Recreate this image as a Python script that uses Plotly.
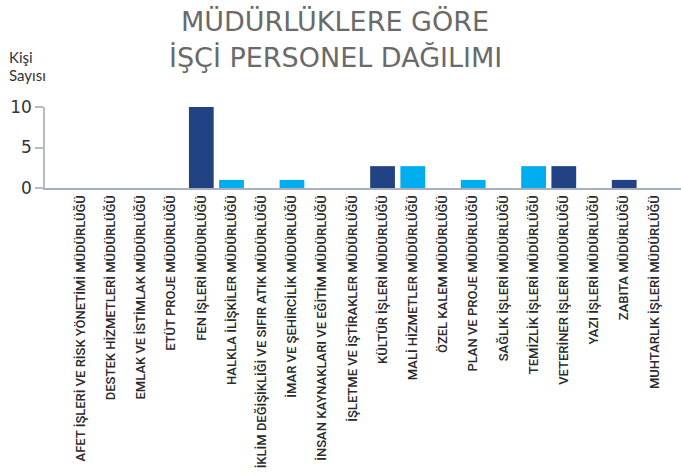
import plotly.graph_objects as go

categories = [
    "AFET İŞLERİ VE RİSK YÖNETİMİ MÜDÜRLÜĞÜ",
    "DESTEK HİZMETLERİ MÜDÜRLÜĞÜ",
    "EMLAK VE İSTİMLAK MÜDÜRLÜĞÜ",
    "ETÜT PROJE MÜDÜRLÜĞÜ",
    "FEN İŞLERİ MÜDÜRLÜĞÜ",
    "HALKLA İLİŞKİLER MÜDÜRLÜĞÜ",
    "İKLİM DEĞİŞİKLİĞİ VE SIFIR ATIK MÜDÜRLÜĞÜ",
    "İMAR VE ŞEHİRCİLİK MÜDÜRLÜĞÜ",
    "İNSAN KAYNAKLARI VE EĞİTİM MÜDÜRLÜĞÜ",
    "İŞLETME VE İŞTİRAKLER MÜDÜRLÜĞÜ",
    "KÜLTÜR İŞLERİ MÜDÜRLÜĞÜ",
    "MALİ HİZMETLER MÜDÜRLÜĞÜ",
    "ÖZEL KALEM MÜDÜRLÜĞÜ",
    "PLAN VE PROJE MÜDÜRLÜĞÜ",
    "SAĞLIK İŞLERİ MÜDÜRLÜĞÜ",
    "TEMİZLİK İŞLERİ MÜDÜRLÜĞÜ",
    "VETERİNER İŞLERİ MÜDÜRLÜĞÜ",
    "YAZI İŞLERİ MÜDÜRLÜĞÜ",
    "ZABITA MÜDÜRLÜĞÜ",
    "MUHTARLIK İŞLERİ MÜDÜRLÜĞÜ",
]
values = [0, 0, 0, 0, 10, 1, 0, 1, 0, 0, 2.7, 2.7, 0, 1, 0, 2.7, 2.7, 0, 1, 0]
y_ticks = [0, 5, 10]
title_lines = ["MÜDÜRLÜKLERE GÖRE", "İŞÇİ PERSONEL DAĞILIMI"]
y_title_lines = ["Kişi", "Sayısı"]

DARK = "#224383"
LIGHT = "#00AEEF"
colors = [DARK if i % 2 == 0 else LIGHT for i in range(len(categories))]

fig = go.Figure(
    go.Bar(
        x=categories,
        y=values,
        marker=dict(color=colors, line=dict(width=0)),
        hoverinfo="x+y",
    )
)

W, H = 681, 476
ml, mr, mt, mb = 45, 0, 107, 288
PW = W - ml - mr
PH = H - mt - mb


def px_x(px):
    return (px - ml) / PW


def px_y(py):
    return (H - mb - py) / PH


fig.update_layout(
    width=W,
    height=H,
    margin=dict(l=ml, r=mr, t=mt, b=mb, autoexpand=False),
    paper_bgcolor="white",
    plot_bgcolor="white",
    bargap=0.18,
    showlegend=False,
    font=dict(family="DejaVu Sans, sans-serif", color="#333333"),
)

fig.update_xaxes(
    type="category",
    range=[-1.175, 19.88],
    showline=True,
    linecolor="#A9AFBB",
    linewidth=2,
    showgrid=False,
    ticks="",
    tickangle=-90,
    tickfont=dict(family="Roboto, sans-serif", size=13, weight=500, color="#2a2a2a"),
    automargin=False,
    fixedrange=True,
)
fig.update_yaxes(
    range=[0, 10],
    tickvals=y_ticks,
    showline=True,
    linecolor="#B5BBC6",
    linewidth=1.5,
    showgrid=False,
    zeroline=False,
    ticks="outside",
    ticklen=8,
    tickwidth=1.5,
    tickcolor="#B5BBC6",
    tickfont=dict(family="DejaVu Sans, sans-serif", size=17, color="#333333"),
    automargin=False,
    fixedrange=True,
)

# title (two lines)
for line, py in zip(title_lines, [21.5, 57.5]):
    fig.add_annotation(
        text=line,
        xref="paper", yref="paper",
        x=px_x(335), xanchor="center",
        y=px_y(py), yanchor="middle",
        showarrow=False,
        font=dict(family="DejaVu Sans, sans-serif", size=27, color="#6a6a6a"),
    )

# y-axis title (two lines)
for line, py in zip(y_title_lines, [57, 75]):
    fig.add_annotation(
        text=line,
        xref="paper", yref="paper",
        x=px_x(7), xanchor="left",
        y=px_y(py), yanchor="middle",
        showarrow=False,
        font=dict(family="Lato, sans-serif", size=15, color="#333333"),
    )

fig.write_html(
    "out.html",
    config={"displayModeBar": False},
    post_script="document.body.style.margin='0';",
)
